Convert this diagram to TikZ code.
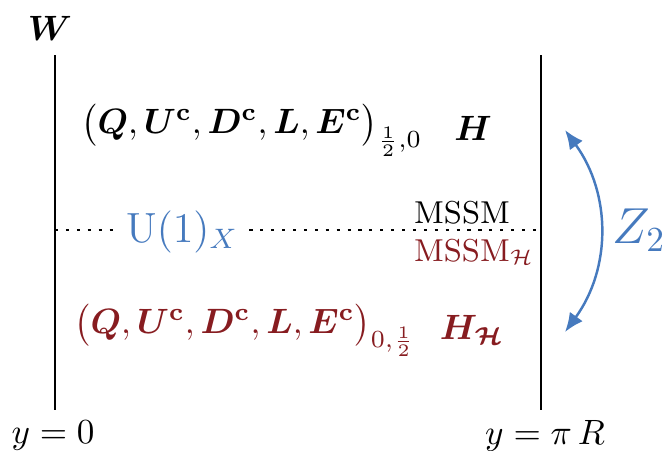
\documentclass[tikz,border=0pt]{standalone}
\usepackage{amsmath, amssymb}
\usepackage{bm}
\usetikzlibrary{arrows.meta, positioning}
\definecolor{ZBlue}{RGB}{70, 122, 190}
\definecolor{HRed}{RGB}{135, 28, 32}
\begin{document}
\begin{tikzpicture}[x=0.01cm, y=-0.01cm,
  brane/.style={black, line width=0.7pt},
  lab/.style={inner sep=1pt},
  hlab/.style={lab, text=HRed},
  blab/.style={lab, text=ZBlue},
  dots/.style={line width=0.8pt, dash pattern=on 0.9pt off 2.2pt},
  zarr/.style={{Latex[length=1.9mm, width=1.6mm]}-{Latex[length=1.9mm, width=1.6mm]}, ZBlue, line width=0.7pt}]
\useasboundingbox (0,0) rectangle (664,450);
% the two branes
\coordinate (l0) at (55,55); \coordinate (l1) at (55,410);
\coordinate (r0) at (541,55); \coordinate (r1) at (541,410);
\draw[brane] (l0) -- (l1); \draw[brane] (r0) -- (r1);
\node[lab] (w) at (50,28) {$\bm{W}$};
\node[lab] (y0) at (53,436) {$y=0$};
\node[lab] (ypi) at (545,436) {$y=\pi\,R$};
% upper sector
\node[lab] (mtop) at (252,130) {$\bigl(\bm{Q},\bm{U}^{\mathbf{c}},\bm{D}^{\mathbf{c}},\bm{L},\bm{E}^{\mathbf{c}}\bigr)_{\frac12,0}$};
\node[lab] (htop) at (473,128) {$\bm{H}$};
% U(1)_X line
\coordinate (lm) at (55,230); \coordinate (rm) at (541,230);
\node[blab, font=\large, inner xsep=3pt] (u1) at (182,232) {$\mathrm{U}(1)_X$};
\draw[dots] (lm) -- (u1.west |- lm); \draw[dots] (u1.east |- rm) -- (rm);
\node[lab, font=\small] (mssm) at (462,213) {MSSM};
\node[hlab, font=\small] (mssmh) at (474,252) {MSSM$_{\mathcal{H}}$};
% lower sector
\node[hlab] (mbot) at (245,330) {$\bigl(\bm{Q},\bm{U}^{\mathbf{c}},\bm{D}^{\mathbf{c}},\bm{L},\bm{E}^{\mathbf{c}}\bigr)_{0,\frac12}$};
\node[hlab] (hbot) at (472,330) {$\bm{H}_{\bm{\mathcal{H}}}$};
% Z_2 exchange
\coordinate (za) at (565,130); \coordinate (zb) at (565,332);
\draw[zarr] (za) to[bend left=36] (zb);
\node[blab, font=\Large] (z2) at (639,230) {$Z_2$};
\end{tikzpicture}
\end{document}
